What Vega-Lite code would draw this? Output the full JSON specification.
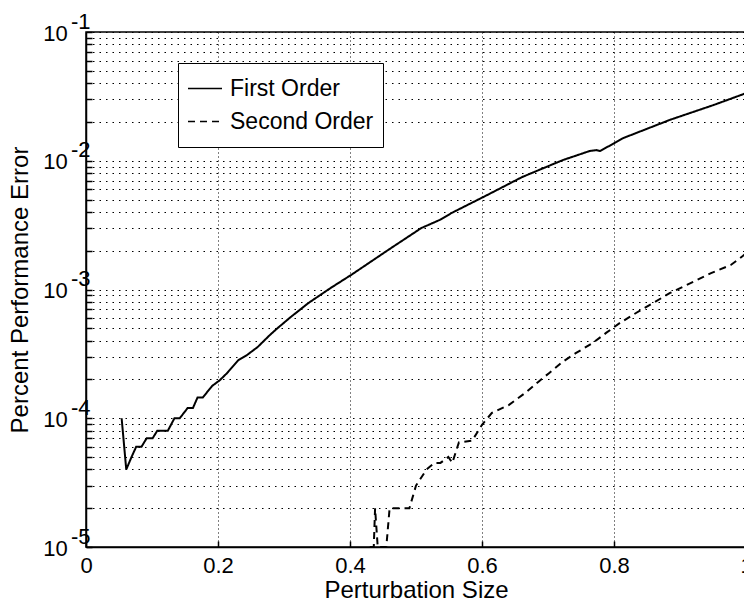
{
  "$schema": "https://vega.github.io/schema/vega-lite/v6.json",
  "width": 660,
  "height": 515,
  "autosize": {"type": "none"},
  "padding": {"left": 86, "top": 32, "right": 0, "bottom": 58},
  "background": "white",
  "config": {
    "font": "Liberation Sans",
    "view": {"stroke": "black", "strokeWidth": 1.5},
    "axis": {
      "domainColor": "black",
      "domainWidth": 1.5,
      "tickColor": "black",
      "tickWidth": 1.5,
      "tickSize": -6,
      "labelColor": "black",
      "labelFontSize": 22,
      "labelFont": "Liberation Sans",
      "labelFlush": false,
      "titleColor": "black",
      "titleFontSize": 24,
      "titleFontWeight": "normal",
      "titleFont": "Liberation Sans",
      "grid": true,
      "gridColor": "black",
      "gridOpacity": 1,
      "gridWidth": 1
    }
  },
  "data": {
    "values": [
      {"series": "First Order", "x": 0.054, "y": 0.0001},
      {"series": "First Order", "x": 0.061, "y": 0.00004},
      {"series": "First Order", "x": 0.069, "y": 0.00005},
      {"series": "First Order", "x": 0.076, "y": 0.00006},
      {"series": "First Order", "x": 0.084, "y": 0.00006},
      {"series": "First Order", "x": 0.092, "y": 0.00007},
      {"series": "First Order", "x": 0.101, "y": 0.00007},
      {"series": "First Order", "x": 0.108, "y": 0.00008},
      {"series": "First Order", "x": 0.124, "y": 0.00008},
      {"series": "First Order", "x": 0.134, "y": 0.0001},
      {"series": "First Order", "x": 0.142, "y": 0.0001},
      {"series": "First Order", "x": 0.154, "y": 0.00012},
      {"series": "First Order", "x": 0.162, "y": 0.00012},
      {"series": "First Order", "x": 0.169, "y": 0.000145},
      {"series": "First Order", "x": 0.177, "y": 0.000145},
      {"series": "First Order", "x": 0.191, "y": 0.000178},
      {"series": "First Order", "x": 0.203, "y": 0.000198},
      {"series": "First Order", "x": 0.214, "y": 0.000225},
      {"series": "First Order", "x": 0.231, "y": 0.000283},
      {"series": "First Order", "x": 0.244, "y": 0.00031},
      {"series": "First Order", "x": 0.26, "y": 0.000357},
      {"series": "First Order", "x": 0.278, "y": 0.00044},
      {"series": "First Order", "x": 0.29, "y": 0.0005},
      {"series": "First Order", "x": 0.31, "y": 0.00061},
      {"series": "First Order", "x": 0.337, "y": 0.000785},
      {"series": "First Order", "x": 0.371, "y": 0.00103},
      {"series": "First Order", "x": 0.402, "y": 0.0013},
      {"series": "First Order", "x": 0.458, "y": 0.00203},
      {"series": "First Order", "x": 0.508, "y": 0.003},
      {"series": "First Order", "x": 0.536, "y": 0.00347},
      {"series": "First Order", "x": 0.554, "y": 0.00393},
      {"series": "First Order", "x": 0.608, "y": 0.00542},
      {"series": "First Order", "x": 0.661, "y": 0.00748},
      {"series": "First Order", "x": 0.722, "y": 0.0101},
      {"series": "First Order", "x": 0.763, "y": 0.0119},
      {"series": "First Order", "x": 0.773, "y": 0.0121},
      {"series": "First Order", "x": 0.779, "y": 0.0119},
      {"series": "First Order", "x": 0.814, "y": 0.015},
      {"series": "First Order", "x": 0.885, "y": 0.0208},
      {"series": "First Order", "x": 0.951, "y": 0.0271},
      {"series": "First Order", "x": 1.0, "y": 0.0335},
      {"series": "Second Order", "x": 0.43, "y": 0.00001},
      {"series": "Second Order", "x": 0.436, "y": 0.00001},
      {"series": "Second Order", "x": 0.438, "y": 0.00002},
      {"series": "Second Order", "x": 0.442, "y": 0.00001},
      {"series": "Second Order", "x": 0.455, "y": 0.00001},
      {"series": "Second Order", "x": 0.46, "y": 0.00002},
      {"series": "Second Order", "x": 0.49, "y": 0.00002},
      {"series": "Second Order", "x": 0.5, "y": 0.00003},
      {"series": "Second Order", "x": 0.516, "y": 0.00004},
      {"series": "Second Order", "x": 0.528, "y": 0.000045},
      {"series": "Second Order", "x": 0.537, "y": 0.000045},
      {"series": "Second Order", "x": 0.549, "y": 0.00005},
      {"series": "Second Order", "x": 0.555, "y": 0.000045},
      {"series": "Second Order", "x": 0.565, "y": 0.000065},
      {"series": "Second Order", "x": 0.585, "y": 0.000067},
      {"series": "Second Order", "x": 0.6, "y": 0.000089},
      {"series": "Second Order", "x": 0.615, "y": 0.00011},
      {"series": "Second Order", "x": 0.641, "y": 0.000127},
      {"series": "Second Order", "x": 0.666, "y": 0.000158},
      {"series": "Second Order", "x": 0.687, "y": 0.000195},
      {"series": "Second Order", "x": 0.702, "y": 0.000225},
      {"series": "Second Order", "x": 0.722, "y": 0.000274},
      {"series": "Second Order", "x": 0.742, "y": 0.00032},
      {"series": "Second Order", "x": 0.768, "y": 0.000385},
      {"series": "Second Order", "x": 0.788, "y": 0.00046},
      {"series": "Second Order", "x": 0.809, "y": 0.00055},
      {"series": "Second Order", "x": 0.834, "y": 0.00066},
      {"series": "Second Order", "x": 0.86, "y": 0.00079},
      {"series": "Second Order", "x": 0.885, "y": 0.00094},
      {"series": "Second Order", "x": 0.916, "y": 0.00112},
      {"series": "Second Order", "x": 0.947, "y": 0.00134},
      {"series": "Second Order", "x": 0.977, "y": 0.00155},
      {"series": "Second Order", "x": 1.0, "y": 0.0019}
    ]
  },
  "mark": {"type": "line", "color": "black", "strokeWidth": 2, "clip": true},
  "encoding": {
    "x": {
      "field": "x",
      "type": "quantitative",
      "scale": {"domain": [0, 1], "nice": false},
      "axis": {
        "title": "Perturbation Size",
        "values": [0, 0.2, 0.4, 0.6, 0.8, 1],
        "labelExpr": "datum.value == 0 || datum.value == 1 ? format(datum.value, 'd') : format(datum.value, '.1f')",
        "labelPadding": 14,
        "titlePadding": 2,
        "gridDash": [1, 3]
      }
    },
    "y": {
      "field": "y",
      "type": "quantitative",
      "scale": {"type": "log", "domain": [0.00001, 0.1], "nice": false},
      "axis": {
        "title": "Percent Performance Error",
        "values": [0.00001, 0.00002, 0.00003, 0.00004, 0.00005, 0.00006, 0.00007, 0.00008, 0.00009,
                   0.0001, 0.0002, 0.0003, 0.0004, 0.0005, 0.0006, 0.0007, 0.0008, 0.0009,
                   0.001, 0.002, 0.003, 0.004, 0.005, 0.006, 0.007, 0.008, 0.009,
                   0.01, 0.02, 0.03, 0.04, 0.05, 0.06, 0.07, 0.08, 0.09, 0.1],
        "labelExpr": "abs(log(datum.value)/LN10 - round(log(datum.value)/LN10)) < 0.001 ? ['-' + (-round(log(datum.value)/LN10)), '10\u00a0\u00a0\u00a0\u2009\u200b'] : ''",
        "labelFontSize": 22,
        "labelLineHeight": 12,
        "labelBaseline": "alphabetic",
        "labelOffset": -4,
        "labelOverlap": false,
        "labelPadding": 2,
        "titlePadding": 10,
        "gridDash": [1.5, 5]
      }
    },
    "strokeDash": {
      "field": "series",
      "type": "nominal",
      "scale": {"domain": ["First Order", "Second Order"], "range": [[1, 0], [7, 5]]},
      "legend": {
        "orient": "none",
        "legendX": 92,
        "legendY": 31,
        "title": null,
        "strokeColor": "black",
        "fillColor": "white",
        "padding": 9,
        "clipHeight": 33,
        "rowPadding": -3,
        "symbolType": "stroke",
        "symbolSize": 1156,
        "symbolStrokeWidth": 1.5,
        "symbolStrokeColor": "black",
        "symbolOffset": 0,
        "labelOffset": 7,
        "labelFontSize": 23,
        "labelColor": "black",
        "labelFont": "Liberation Sans"
      }
    }
  }
}
